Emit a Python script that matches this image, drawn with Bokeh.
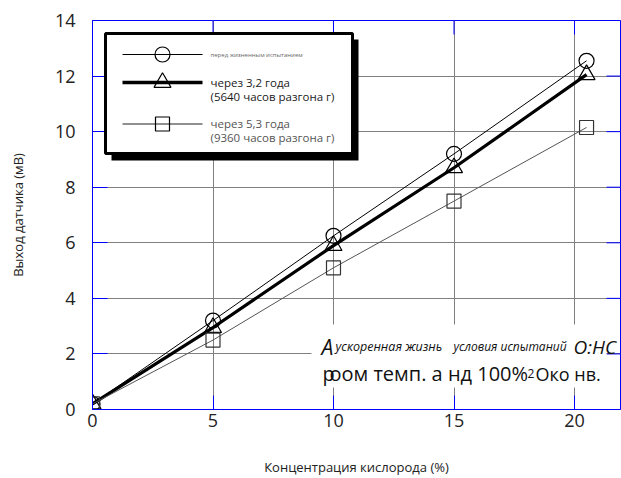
from bokeh.plotting import figure
from bokeh.models import Range1d, FixedTicker, BoxAnnotation, Label
from bokeh.embed import file_html
from bokeh.resources import INLINE

# ---- data ----
oxygen = [0, 5, 10, 15, 20.5]
before_test = [0.2, 3.2, 6.25, 9.2, 12.55]
after_3_2 = [0.2, 2.95, 5.9, 8.7, 12.05]
after_5_3 = [0.2, 2.5, 5.1, 7.5, 10.15]
x_ticks = [0, 5, 10, 15, 20]
y_ticks = [0, 2, 4, 6, 8, 10, 12, 14]

FONT = "Open Sans"
BLUE = "#0000ff"
GRID = "#808080"

W, H = 621, 478
BL, BR, BT, BB = 92, 1, 20, 69
FW, FH = W - BL - BR, H - BT - BB
X_END = FW / 24.1
Y_END = 14
FL, FT = BL, BT  # picture position of the frame's top-left corner


def dx(px):
    return (px - FL) / FW * X_END


def dy(py):
    return (FT + FH - py) / FH * Y_END


p = figure(width=W, height=H,
           x_range=Range1d(0, X_END), y_range=Range1d(0, Y_END),
           output_backend="svg", toolbar_location=None,
           min_border_left=BL, min_border_right=BR,
           min_border_top=BT, min_border_bottom=BB)
p.outline_line_color = BLUE
p.outline_line_width = 1
p.background_fill_color = "white"
p.border_fill_color = "white"

p.xaxis.axis_label = "Концентрация кислорода (%)"
p.yaxis.axis_label = "Выход датчика (мВ)"

for ax in (p.xaxis[0], p.yaxis[0]):
    ax.axis_line_color = BLUE
    ax.major_tick_line_color = BLUE
    ax.major_tick_in = 14
    ax.major_tick_out = 0
    ax.minor_tick_line_color = None
    ax.major_label_text_font = FONT
    ax.major_label_text_font_size = "18px"
    ax.major_label_text_color = "#222222"
    ax.axis_label_text_font = FONT
    ax.axis_label_text_font_size = "13px"
    ax.axis_label_text_font_style = "normal"
    ax.axis_label_text_color = "#222222"

p.xaxis.ticker = FixedTicker(ticks=x_ticks)
p.yaxis.ticker = FixedTicker(ticks=y_ticks)
p.yaxis.major_tick_in = 15
p.xaxis.major_label_standoff = 4
p.xaxis.axis_label_standoff = 28
p.yaxis.major_label_standoff = 17
p.yaxis.axis_label_standoff = 25

p.xgrid.ticker = FixedTicker(ticks=x_ticks)
p.ygrid.ticker = FixedTicker(ticks=y_ticks)
p.xgrid.grid_line_color = GRID
p.ygrid.grid_line_color = GRID
p.xgrid.grid_line_width = 1
p.ygrid.grid_line_width = 1

# inside ticks on the top and right edges of the box
tick_dy = 14 / FH * Y_END
tick_dx = 14 / FW * X_END
p.segment(x0=x_ticks, y0=[Y_END] * len(x_ticks), x1=x_ticks,
          y1=[Y_END - tick_dy] * len(x_ticks), line_color=BLUE, line_width=1)
p.segment(x0=[X_END] * len(y_ticks), y0=y_ticks, x1=[X_END - tick_dx] * len(y_ticks),
          y1=y_ticks, line_color=BLUE, line_width=1)

# ---- series ----
p.line(oxygen, before_test, line_color="black", line_width=1)
p.scatter(oxygen, before_test, marker="circle", size=15, fill_color=None,
          line_color="black", line_width=1.2)
p.line(oxygen, after_3_2, line_color="black", line_width=3.2)
p.scatter(oxygen, after_3_2, marker="triangle", size=17, fill_color=None,
          line_color="black", line_width=1.2)
p.line(oxygen, after_5_3, line_color="#555555", line_width=1)
p.scatter(oxygen, after_5_3, marker="square", size=14, fill_color=None,
          line_color="#333333", line_width=1.2)

# ---- legend (drawn by hand) ----
p.add_layout(BoxAnnotation(left=dx(111), right=dx(358), top=dy(39), bottom=dy(160),
                           fill_color="black", fill_alpha=1, line_color=None))
p.add_layout(BoxAnnotation(left=dx(105), right=dx(352), top=dy(33), bottom=dy(153),
                           fill_color="white", fill_alpha=1, line_color="black",
                           line_width=3, line_alpha=1))

samples = [
    (54, 1.2, "circle", 15, "black"),
    (82, 3.6, "triangle", 17, "black"),
    (123.5, 1.2, "square", 14, "#222222"),
]
for yy, lw, mk, sz, col in samples:
    r = p.line([dx(122), dx(202)], [dy(yy), dy(yy)], line_color=col, line_width=lw)
    r.level = "overlay"
    r = p.scatter([dx(162)], [dy(yy)], marker=mk, size=sz, fill_color=None,
                  line_color="black", line_width=1.2)
    r.level = "overlay"

legend_texts = [
    ("перед жизненным испытанием", 54, "6px", "#666666"),
    ("через 3,2 года", 82, "11.5px", "#1a1a1a"),
    ("(5640 часов разгона г)", 96, "11.5px", "#1a1a1a"),
    ("через 5,3 года", 123, "11.5px", "#555555"),
    ("(9360 часов разгона г)", 137, "11.5px", "#555555"),
]
for txt, yy, fs, col in legend_texts:
    p.add_layout(Label(x=dx(210), y=dy(yy), text=txt, text_font=FONT,
                       text_font_size=fs, text_color=col,
                       text_baseline="middle", text_align="left"))

# ---- annotation text box ----
p.add_layout(BoxAnnotation(left=dx(311), right=dx(606), top=dy(324), bottom=dy(387),
                           fill_color="white", fill_alpha=1, line_color=None))

note_pieces = [
    ("A", 321, 346, "21px", "italic"),
    ("ускоренная жизнь", 335, 346, "12.5px", "italic"),
    ("условия испытаний", 453, 346, "12px", "italic"),
    ("О:НС", 573, 346, "19px", "italic"),
    ("р", 322, 373, "20px", "normal"),
    ("оом темп. а нд 100%", 329, 373, "20px", "normal"),
    ("2", 527, 373, "12px", "normal"),
    ("Око нв.", 535, 373, "18px", "normal"),
]
for txt, xx, yy, fs, st in note_pieces:
    p.add_layout(Label(x=dx(xx), y=dy(yy), text=txt, text_font=FONT,
                       text_font_size=fs, text_font_style=st, text_color="#111111",
                       text_baseline="alphabetic", text_align="left"))

open("out.html", "w").write(file_html(p, INLINE))
